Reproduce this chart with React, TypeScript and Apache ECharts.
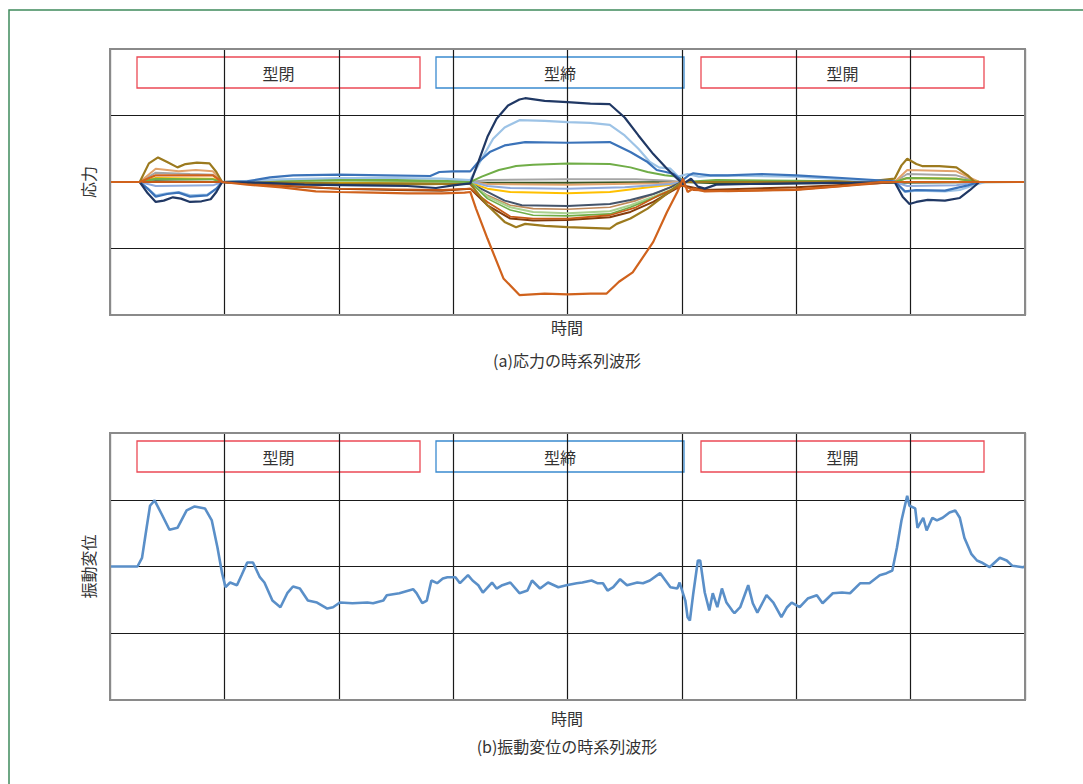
import { useEffect, useRef } from "react";
import * as echarts from "echarts";

// ---- tick / label data ----
const phaseLabels = ["型閉", "型締", "型開"];
const xAxisName = "時間";
const captionA = "(a)応力の時系列波形";
const captionB = "(b)振動変位の時系列波形";
const yNameA = "応力";
const yNameB = "振動変位";

// ---- (a) stress waveforms: [time, stress] ----
const navyStress = [[0,0],[0.26,0],[0.33,-0.17],[0.4,-0.3],[0.47,-0.28],[0.55,-0.23],[0.62,-0.25],[0.7,-0.3],[0.8,-0.29],[0.88,-0.26],[0.93,-0.15],[0.98,0],[1.3,-0.01],[1.7,-0.04],[2.2,-0.05],[2.6,-0.06],[2.85,-0.09],[3.0,-0.05],[3.15,-0.02],[3.22,0.3],[3.3,0.68],[3.38,0.95],[3.48,1.15],[3.58,1.24],[3.63,1.26],[3.8,1.22],[4.0,1.2],[4.2,1.18],[4.37,1.17],[4.5,0.97],[4.62,0.7],[4.75,0.42],[4.87,0.2],[4.96,0.05],[5.01,-0.03],[5.08,0.05],[5.14,-0.07],[5.2,-0.1],[5.3,-0.04],[5.6,-0.03],[6.0,-0.02],[6.5,-0.01],[6.86,0],[6.93,-0.22],[6.99,-0.33],[7.05,-0.3],[7.15,-0.27],[7.3,-0.28],[7.43,-0.24],[7.52,-0.12],[7.6,0],[8,0]];
const lightBlueStress = [[0,0],[0.26,0],[0.33,-0.1],[0.4,-0.2],[0.5,-0.17],[0.6,-0.15],[0.7,-0.2],[0.85,-0.19],[0.93,-0.1],[0.98,0],[1.5,0.04],[2,0.06],[2.5,0.06],[2.9,0.05],[3.15,0.03],[3.25,0.35],[3.35,0.65],[3.45,0.82],[3.58,0.93],[3.8,0.92],[4.0,0.9],[4.2,0.89],[4.37,0.86],[4.5,0.7],[4.62,0.5],[4.72,0.3],[4.8,0.22],[4.9,0.2],[4.97,0.08],[5.05,0.12],[5.15,0.08],[5.3,0.1],[6,0.08],[6.5,0.03],[6.86,0],[6.95,-0.15],[7.05,-0.13],[7.3,-0.14],[7.43,-0.12],[7.55,-0.05],[7.65,0],[8,0]];
const blueStress = [[0,0],[0.26,0],[0.33,-0.1],[0.4,-0.22],[0.5,-0.18],[0.6,-0.16],[0.7,-0.22],[0.85,-0.2],[0.93,-0.1],[0.98,0],[1.2,0.01],[1.4,0.07],[1.6,0.1],[2,0.11],[2.4,0.1],[2.8,0.09],[2.88,0.15],[3.0,0.16],[3.15,0.16],[3.22,0.3],[3.32,0.45],[3.45,0.55],[3.63,0.6],[4.0,0.59],[4.37,0.6],[4.55,0.45],[4.7,0.3],[4.78,0.18],[4.86,0.15],[4.93,0.12],[5.0,0.02],[5.06,0.1],[5.1,0.13],[5.15,0.12],[5.25,0.1],[5.4,0.1],[5.7,0.12],[6,0.1],[6.4,0.06],[6.86,0.01],[6.95,-0.14],[7.05,-0.12],[7.3,-0.13],[7.5,-0.05],[7.6,0],[8,0]];
const greenStress = [[0,0],[0.26,0],[0.4,0.05],[0.7,0.04],[0.9,0.04],[0.98,0],[1.5,0.02],[2,0.03],[2.5,0.03],[2.9,0.02],[3.15,0],[3.25,0.08],[3.4,0.18],[3.55,0.24],[3.7,0.26],[4.0,0.28],[4.37,0.27],[4.55,0.22],[4.7,0.15],[4.85,0.1],[4.97,0.08],[5.02,0],[5.3,0.03],[6,0.02],[6.86,0],[6.97,0.06],[7.4,0.05],[7.6,0],[8,0]];
const grayStress = [[0,0],[0.26,0],[0.4,0.14],[0.7,0.12],[0.9,0.11],[0.98,0],[2,0.01],[3.15,0],[3.3,0.03],[4.0,0.04],[4.6,0.04],[4.9,0.02],[5.0,0],[6,0],[6.86,0],[6.97,0.12],[7.4,0.1],[7.6,0],[8,0]];
const darkGreenStress = [[0,0],[0.26,0],[0.4,0.01],[0.98,0],[1.5,-0.02],[2,-0.04],[2.9,-0.03],[3.15,-0.01],[4.0,-0.01],[5.0,0],[5.5,-0.03],[6,-0.02],[8,0]];
const tanStress = [[0,0],[0.26,0],[0.4,0.2],[0.6,0.16],[0.75,0.18],[0.9,0.16],[0.98,0],[2,-0.02],[3.15,0],[3.3,-0.03],[4.0,-0.04],[4.8,-0.02],[5,0],[6.86,0],[6.97,0.18],[7.4,0.16],[7.6,0],[8,0]];
const goldStress = [[0,0],[0.26,0],[0.4,0.06],[0.9,0.05],[0.98,0],[2,-0.01],[3.15,-0.01],[3.3,-0.1],[3.5,-0.15],[4.0,-0.17],[4.37,-0.15],[4.6,-0.1],[4.9,-0.04],[5.0,0],[6.86,0],[6.97,0.06],[7.4,0.05],[7.6,0],[8,0]];
const paleBlueStress = [[0,0],[0.26,0],[0.4,-0.06],[0.9,-0.05],[0.98,0],[2,0.03],[3.15,0.01],[3.3,-0.06],[3.5,-0.09],[4.0,-0.1],[4.5,-0.08],[4.9,-0.03],[5.0,0],[6.86,0],[6.97,-0.06],[7.4,-0.05],[7.6,0],[8,0]];
const slateStress = [[0,0],[0.98,0],[2,-0.03],[3.15,-0.02],[3.3,-0.15],[3.45,-0.28],[3.6,-0.35],[4.0,-0.36],[4.37,-0.33],[4.55,-0.27],[4.75,-0.18],[4.9,-0.08],[5.0,0],[8,0]];
const sandStress = [[0,0],[0.98,0],[2,-0.05],[3.15,-0.03],[3.3,-0.2],[3.5,-0.35],[3.7,-0.4],[4.0,-0.41],[4.37,-0.38],[4.6,-0.28],[4.8,-0.15],[5.0,0],[8,0]];
const lightGreenStress = [[0,0],[0.98,0],[2,0.02],[3.15,0],[3.3,-0.22],[3.5,-0.38],[3.7,-0.45],[4.0,-0.47],[4.37,-0.44],[4.55,-0.35],[4.75,-0.22],[4.9,-0.12],[5.0,0],[8,0]];
const green2Stress = [[0,0],[0.98,0],[2,0.03],[3.15,0],[3.3,-0.25],[3.5,-0.42],[3.7,-0.5],[4.0,-0.51],[4.37,-0.48],[4.55,-0.38],[4.75,-0.24],[4.9,-0.14],[5.0,0],[8,0]];
const darkRedStress = [[0,0],[0.98,0],[1.5,-0.06],[2,-0.1],[2.5,-0.12],[2.9,-0.13],[3.15,-0.1],[3.3,-0.35],[3.5,-0.55],[3.7,-0.58],[4.0,-0.57],[4.37,-0.53],[4.55,-0.45],[4.75,-0.3],[4.9,-0.15],[5.0,-0.05],[5.2,-0.12],[6,-0.08],[6.7,-0.02],[6.86,0],[8,0]];
const orange2Stress = [[0,0],[0.98,0],[1.5,-0.05],[2,-0.1],[2.5,-0.11],[2.9,-0.12],[3.15,-0.1],[3.3,-0.3],[3.5,-0.52],[3.7,-0.55],[4.0,-0.55],[4.37,-0.5],[4.6,-0.38],[4.8,-0.2],[5.0,-0.05],[5.1,-0.12],[5.4,-0.14],[6,-0.12],[6.5,-0.05],[6.86,0],[8,0]];
const oliveStress = [[0,0],[0.26,0],[0.34,0.28],[0.42,0.37],[0.5,0.3],[0.59,0.22],[0.66,0.27],[0.76,0.29],[0.87,0.28],[0.93,0.15],[0.98,0],[2,-0.02],[2.9,-0.03],[3.15,-0.03],[3.3,-0.35],[3.45,-0.6],[3.55,-0.68],[3.63,-0.63],[3.8,-0.66],[4.0,-0.68],[4.37,-0.7],[4.43,-0.63],[4.55,-0.55],[4.7,-0.4],[4.85,-0.2],[5.0,0],[6,0],[6.7,0.02],[6.86,0.05],[6.92,0.25],[6.97,0.35],[7.05,0.27],[7.1,0.24],[7.25,0.24],[7.4,0.22],[7.5,0.1],[7.56,0],[8,0]];
const orangeStress = [[0,0],[0.26,0],[0.4,0.1],[0.9,0.1],[0.98,0],[1.2,-0.04],[1.5,-0.08],[1.8,-0.14],[2.0,-0.15],[2.3,-0.16],[2.6,-0.17],[2.9,-0.17],[3.1,-0.16],[3.15,-0.15],[3.2,-0.4],[3.3,-0.85],[3.44,-1.45],[3.58,-1.7],[3.8,-1.68],[4.0,-1.69],[4.2,-1.68],[4.34,-1.68],[4.45,-1.5],[4.57,-1.36],[4.75,-0.9],[4.87,-0.45],[4.96,-0.15],[5.01,0.05],[5.05,-0.15],[5.1,-0.1],[5.2,-0.14],[5.5,-0.13],[6,-0.11],[6.4,-0.06],[6.73,0],[8,0]];

// ---- (b) vibration displacement: [time, displacement] ----
const vibration = [[0,0],[0.24,0],[0.28,0.13],[0.32,0.58],[0.35,0.91],[0.39,0.99],[0.45,0.79],[0.52,0.55],[0.59,0.58],[0.67,0.84],[0.74,0.9],[0.83,0.87],[0.89,0.69],[0.94,0.28],[0.98,-0.1],[1.01,-0.31],[1.05,-0.24],[1.11,-0.28],[1.15,-0.13],[1.2,0.06],[1.25,0.06],[1.31,-0.16],[1.35,-0.24],[1.42,-0.51],[1.49,-0.61],[1.55,-0.4],[1.6,-0.3],[1.66,-0.33],[1.73,-0.51],[1.81,-0.54],[1.9,-0.63],[1.95,-0.61],[2.01,-0.54],[2.12,-0.55],[2.25,-0.54],[2.3,-0.55],[2.39,-0.51],[2.42,-0.43],[2.53,-0.4],[2.65,-0.34],[2.68,-0.4],[2.73,-0.55],[2.77,-0.51],[2.81,-0.21],[2.86,-0.25],[2.91,-0.18],[2.95,-0.16],[3.02,-0.16],[3.06,-0.25],[3.13,-0.13],[3.17,-0.21],[3.22,-0.28],[3.26,-0.39],[3.34,-0.24],[3.38,-0.33],[3.43,-0.28],[3.5,-0.24],[3.58,-0.4],[3.65,-0.36],[3.69,-0.21],[3.76,-0.33],[3.83,-0.24],[3.92,-0.31],[3.99,-0.28],[4.08,-0.25],[4.13,-0.24],[4.21,-0.21],[4.26,-0.25],[4.31,-0.25],[4.35,-0.36],[4.4,-0.31],[4.46,-0.19],[4.52,-0.28],[4.61,-0.24],[4.66,-0.25],[4.72,-0.21],[4.81,-0.1],[4.9,-0.31],[4.96,-0.33],[4.98,-0.24],[5.03,-0.51],[5.05,-0.76],[5.07,-0.81],[5.1,-0.4],[5.14,0.09],[5.16,0.09],[5.2,-0.39],[5.24,-0.66],[5.27,-0.4],[5.31,-0.61],[5.35,-0.33],[5.39,-0.54],[5.44,-0.66],[5.46,-0.7],[5.51,-0.61],[5.58,-0.28],[5.62,-0.55],[5.66,-0.69],[5.74,-0.43],[5.8,-0.54],[5.87,-0.76],[5.92,-0.61],[5.96,-0.54],[6.03,-0.61],[6.1,-0.48],[6.18,-0.43],[6.23,-0.55],[6.32,-0.4],[6.4,-0.39],[6.47,-0.4],[6.56,-0.25],[6.64,-0.25],[6.73,-0.13],[6.79,-0.1],[6.84,-0.06],[6.88,0.28],[6.92,0.69],[6.97,1.06],[6.99,0.91],[7.04,0.87],[7.06,0.58],[7.11,0.73],[7.14,0.54],[7.19,0.73],[7.23,0.69],[7.28,0.73],[7.34,0.81],[7.39,0.84],[7.43,0.73],[7.47,0.43],[7.53,0.19],[7.58,0.09],[7.62,0.06],[7.69,-0.01],[7.78,0.13],[7.84,0.09],[7.89,0.01],[7.98,-0.01],[8,0]];

const stressSeries: [number[][], string, number][] = [
  [darkGreenStress, "#375623", 2],
  [grayStress, "#a5a5a5", 2],
  [tanStress, "#e2a36b", 2],
  [goldStress, "#ffc000", 2],
  [paleBlueStress, "#8faadc", 2],
  [sandStress, "#c08a5a", 1.6],
  [slateStress, "#44546a", 2],
  [lightGreenStress, "#a9d18e", 2],
  [green2Stress, "#70ad47", 1.6],
  [greenStress, "#70ad47", 2],
  [darkRedStress, "#843c0c", 2],
  [orange2Stress, "#c65a16", 1.8],
  [oliveStress, "#9c7a1e", 2.2],
  [lightBlueStress, "#9dc3e6", 2.2],
  [blueStress, "#3b73b9", 2.2],
  [navyStress, "#203864", 2.2],
  [orangeStress, "#d0621c", 2.2],
];

const FONT = '"Noto Sans CJK JP", "Noto Sans", sans-serif';
const FS = 16;

function phaseBoxes(y: number) {
  const boxes = [
    { x: 137, w: 283, color: "#ec4a55" },
    { x: 436, w: 248, color: "#3a8ad0" },
    { x: 701, w: 283, color: "#ec4a55" },
  ];
  return boxes.map((b, i) => ({
    type: "group",
    z: 20,
    children: [
      { type: "rect", shape: { x: b.x, y, width: b.w, height: 31 }, style: { fill: "#fff", stroke: b.color, lineWidth: 1.3 } },
      { type: "text", style: { text: phaseLabels[i], x: b.x + b.w / 2, y: y + 16, align: "center", verticalAlign: "middle", fontSize: FS, fontFamily: FONT, fill: "#333" } },
    ],
  }));
}

function txt(text: string, x: number, y: number) {
  return { type: "text", z: 20, style: { text, x, y, align: "center", verticalAlign: "middle", fontSize: FS, fontFamily: FONT, fill: "#333" } };
}

export default function App() {
  const ref = useRef<HTMLDivElement>(null);
  useEffect(() => {
    const chart = echarts.init(ref.current!, null, { renderer: "svg" });
    const grids = [
      { left: 110, top: 49, width: 915, height: 266 },
      { left: 110, top: 433, width: 915, height: 267 },
    ];
    const xAxis = [0, 1].map((g) => ({
      gridIndex: g, type: "value", min: 0, max: 8, interval: 1,
      axisLabel: { show: false }, axisTick: { show: false }, axisLine: { show: false },
      splitLine: { show: true, lineStyle: { color: "#1a1a1a", width: 1.2 } },
    }));
    const yAxis = [yNameA, yNameB].map((name, g) => ({
      gridIndex: g, type: "value", min: -2, max: 2, interval: 1,
      name, nameLocation: "middle", nameGap: 14, nameRotate: 90,
      nameTextStyle: { fontSize: FS, fontFamily: FONT, color: "#333" },
      axisLabel: { show: false }, axisTick: { show: false }, axisLine: { show: false },
      splitLine: { show: true, lineStyle: { color: "#1a1a1a", width: 1.2 } },
    }));
    const series: any[] = stressSeries.map(([data, color, width]) => ({
      type: "line", xAxisIndex: 0, yAxisIndex: 0, data, symbol: "none", silent: true,
      lineStyle: { color, width }, z: 3,
    }));
    series.push({
      type: "line", xAxisIndex: 1, yAxisIndex: 1, data: vibration, symbol: "none", silent: true,
      lineStyle: { color: "#5a8fc8", width: 2.6 }, z: 3,
    });
    chart.setOption({
      animation: false,
      backgroundColor: "#fff",
      grid: grids,
      xAxis, yAxis, series,
      graphic: [
        { type: "rect", z: 1, shape: { x: 9, y: 10, width: 1100, height: 800 }, style: { fill: "none", stroke: "#3f8a5c", lineWidth: 1.5 } },
        { type: "rect", z: 15, shape: { x: 110, y: 49, width: 915, height: 266 }, style: { fill: "none", stroke: "#8a8a8a", lineWidth: 2 } },
        { type: "rect", z: 15, shape: { x: 110, y: 433, width: 915, height: 267 }, style: { fill: "none", stroke: "#8a8a8a", lineWidth: 2 } },
        ...phaseBoxes(57),
        ...phaseBoxes(441),
        txt(xAxisName, 567, 327),
        txt(captionA, 567, 360),
        txt(xAxisName, 567, 718),
        txt(captionB, 567, 746),
      ],
    });
    return () => chart.dispose();
  }, []);
  return <div ref={ref} style={{ position: "absolute", left: 0, top: 0, width: 1083, height: 784, background: "#fff" }} />;
}
